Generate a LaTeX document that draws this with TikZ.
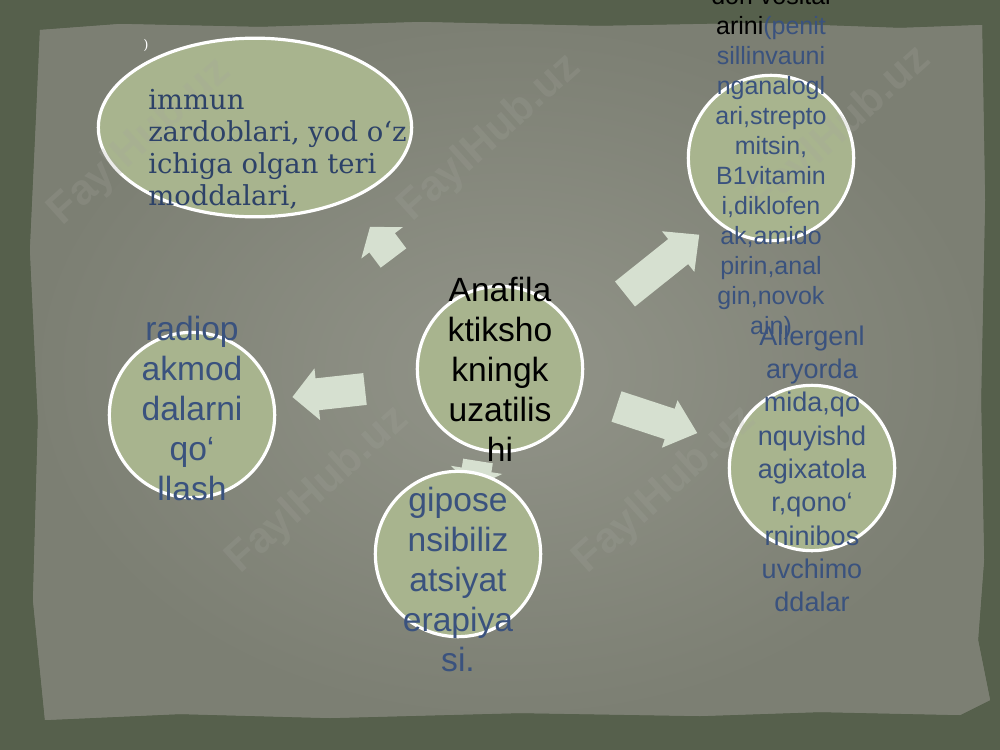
\documentclass[tikz,border=0pt]{standalone}
\usepackage{fontspec}
\setmainfont{Liberation Sans}
\newfontfamily\serifw{DejaVu Serif}
\usetikzlibrary{shapes.geometric}
\definecolor{outerbg}{RGB}{86,96,76}
\definecolor{paperout}{RGB}{124,127,115}
\definecolor{paperin}{RGB}{146,148,137}
\definecolor{bubfill}{RGB}{168,180,142}
\definecolor{arrowc}{RGB}{214,224,208}
\definecolor{tblue}{RGB}{58,82,126}
\definecolor{sblue}{RGB}{45,66,104}
\definecolor{wmc}{RGB}{165,166,158}
\newcommand\blockarr[8]{%
  \begin{scope}[shift={(#1,#2)}, rotate=#3]
    \fill[arrowc] (0,-#7) -- ({#4-#5},-#7) -- ({#4-#5},-#6) -- (#4,0) -- ({#4-#5},#6) -- ({#4-#5},#7) -- (0,#7) -- cycle;
    \coordinate (#8) at (#4,0);
  \end{scope}}
\tikzset{
  bub/.style={circle, draw=white, line width=2.4pt, fill=bubfill, minimum size=124pt, inner sep=0pt},
  bigtxt/.style={align=center, inner sep=0pt, font=\fontsize{25.2pt}{30pt}\selectfont},
  midtxt/.style={align=center, inner sep=0pt, font=\fontsize{20.25pt}{25pt}\selectfont},
  smltxt/.style={align=center, inner sep=0pt, font=\fontsize{18.75pt}{22.5pt}\selectfont},
  wm/.style={text=wmc, opacity=0.22, font=\bfseries\fontsize{32pt}{36pt}\selectfont, rotate=42, inner sep=0pt}
}
\begin{document}
\begin{tikzpicture}[x=0.75pt,y=-0.75pt]
\useasboundingbox (0,0) rectangle (1000,750);
\clip (0,0) rectangle (1000,750);
% background
\fill[outerbg] (0,0) rectangle (1000,750);
\def\paperpath{(40,30) -- (120,24) -- (260,27) -- (420,22) -- (600,26) -- (760,23) -- (900,28) -- (982,25) -- (985,200) -- (981,400) -- (984,560) -- (978,640) -- (990,700) -- (960,715) -- (820,712) -- (700,716) -- (520,713) -- (330,718) -- (180,714) -- (45,720) -- (33,600) -- (38,420) -- (30,250) -- (36,120) -- cycle}
\fill[paperout] \paperpath;
\shade[inner color=paperin, outer color=paperout] \paperpath;
% block arrows
\blockarr{393.5}{258}{127}{39}{20}{26}{16}{a1}
\blockarr{625}{294}{38.6}{95}{27}{26}{16}{a2}
\blockarr{365}{389}{186.3}{73}{25}{26}{16}{a3}
\blockarr{616.5}{406.5}{-18.2}{85}{29}{25}{16}{a4}
\blockarr{478}{461}{-99}{27}{18}{26}{15}{a5}
% bubbles
\node[ellipse, draw=white, line width=2.4pt, fill=bubfill, minimum width=235pt, minimum height=134pt, inner sep=0pt] (e1) at (255,127.5) {};
\node[bub] (cc) at (500,369) {};
\node[bub] (cl) at (192,415) {};
\node[bub] (cb) at (458,554) {};
\node[bub] (ctr) at (771,158) {};
\node[bub] (cbr) at (812,468) {};
% watermarks
\node[wm] (w1) at (140,142) {FaylHub.uz};
\node[wm] (w2) at (490,138) {FaylHub.uz};
\node[wm] (w3) at (840,130) {FaylHub.uz};
\node[wm] (w4) at (318,490) {FaylHub.uz};
\node[wm] (w5) at (665,490) {FaylHub.uz};
% texts
\node[text=white, font=\serifw\fontsize{10pt}{12pt}\selectfont, inner sep=0pt] (paren) at (146,45) {)};
\node[anchor=west, align=left, inner sep=0pt, text=sblue, font=\serifw\fontsize{20.6pt}{24pt}\selectfont] (t1) at (148,149) {immun\\zardoblari, yod o‘z\\ichiga olgan teri\\moddalari,};
\node[bigtxt, text=black] (tc) at (cc.center) {Anafila\\ktiksho\\kningk\\uzatilis\\hi};
\node[bigtxt, text=tblue] (tl) at (192,408) {radiop\\akmod\\dalarni\\qo‘\\llash};
\node[bigtxt, text=tblue] (tb) at (458,579) {gipose\\nsibiliz\\atsiyat\\erapiya\\si.};
\node[midtxt, text=tblue] (tbr) at (812,469) {Allergenl\\aryorda\\mida,qo\\nquyishd\\agixatola\\r,qono‘\\rninibos\\uvchimo\\ddalar};
\node[smltxt, text=tblue] (ttr) at (771,163.5) {{\color{black}dori vosital}\\{\color{black}arini}(penit\\sillinvauni\\nganalogl\\ari,strepto\\mitsin,\\B1vitamin\\i,diklofen\\ak,amido\\pirin,anal\\gin,novok\\ain)};
\end{tikzpicture}
\end{document}
